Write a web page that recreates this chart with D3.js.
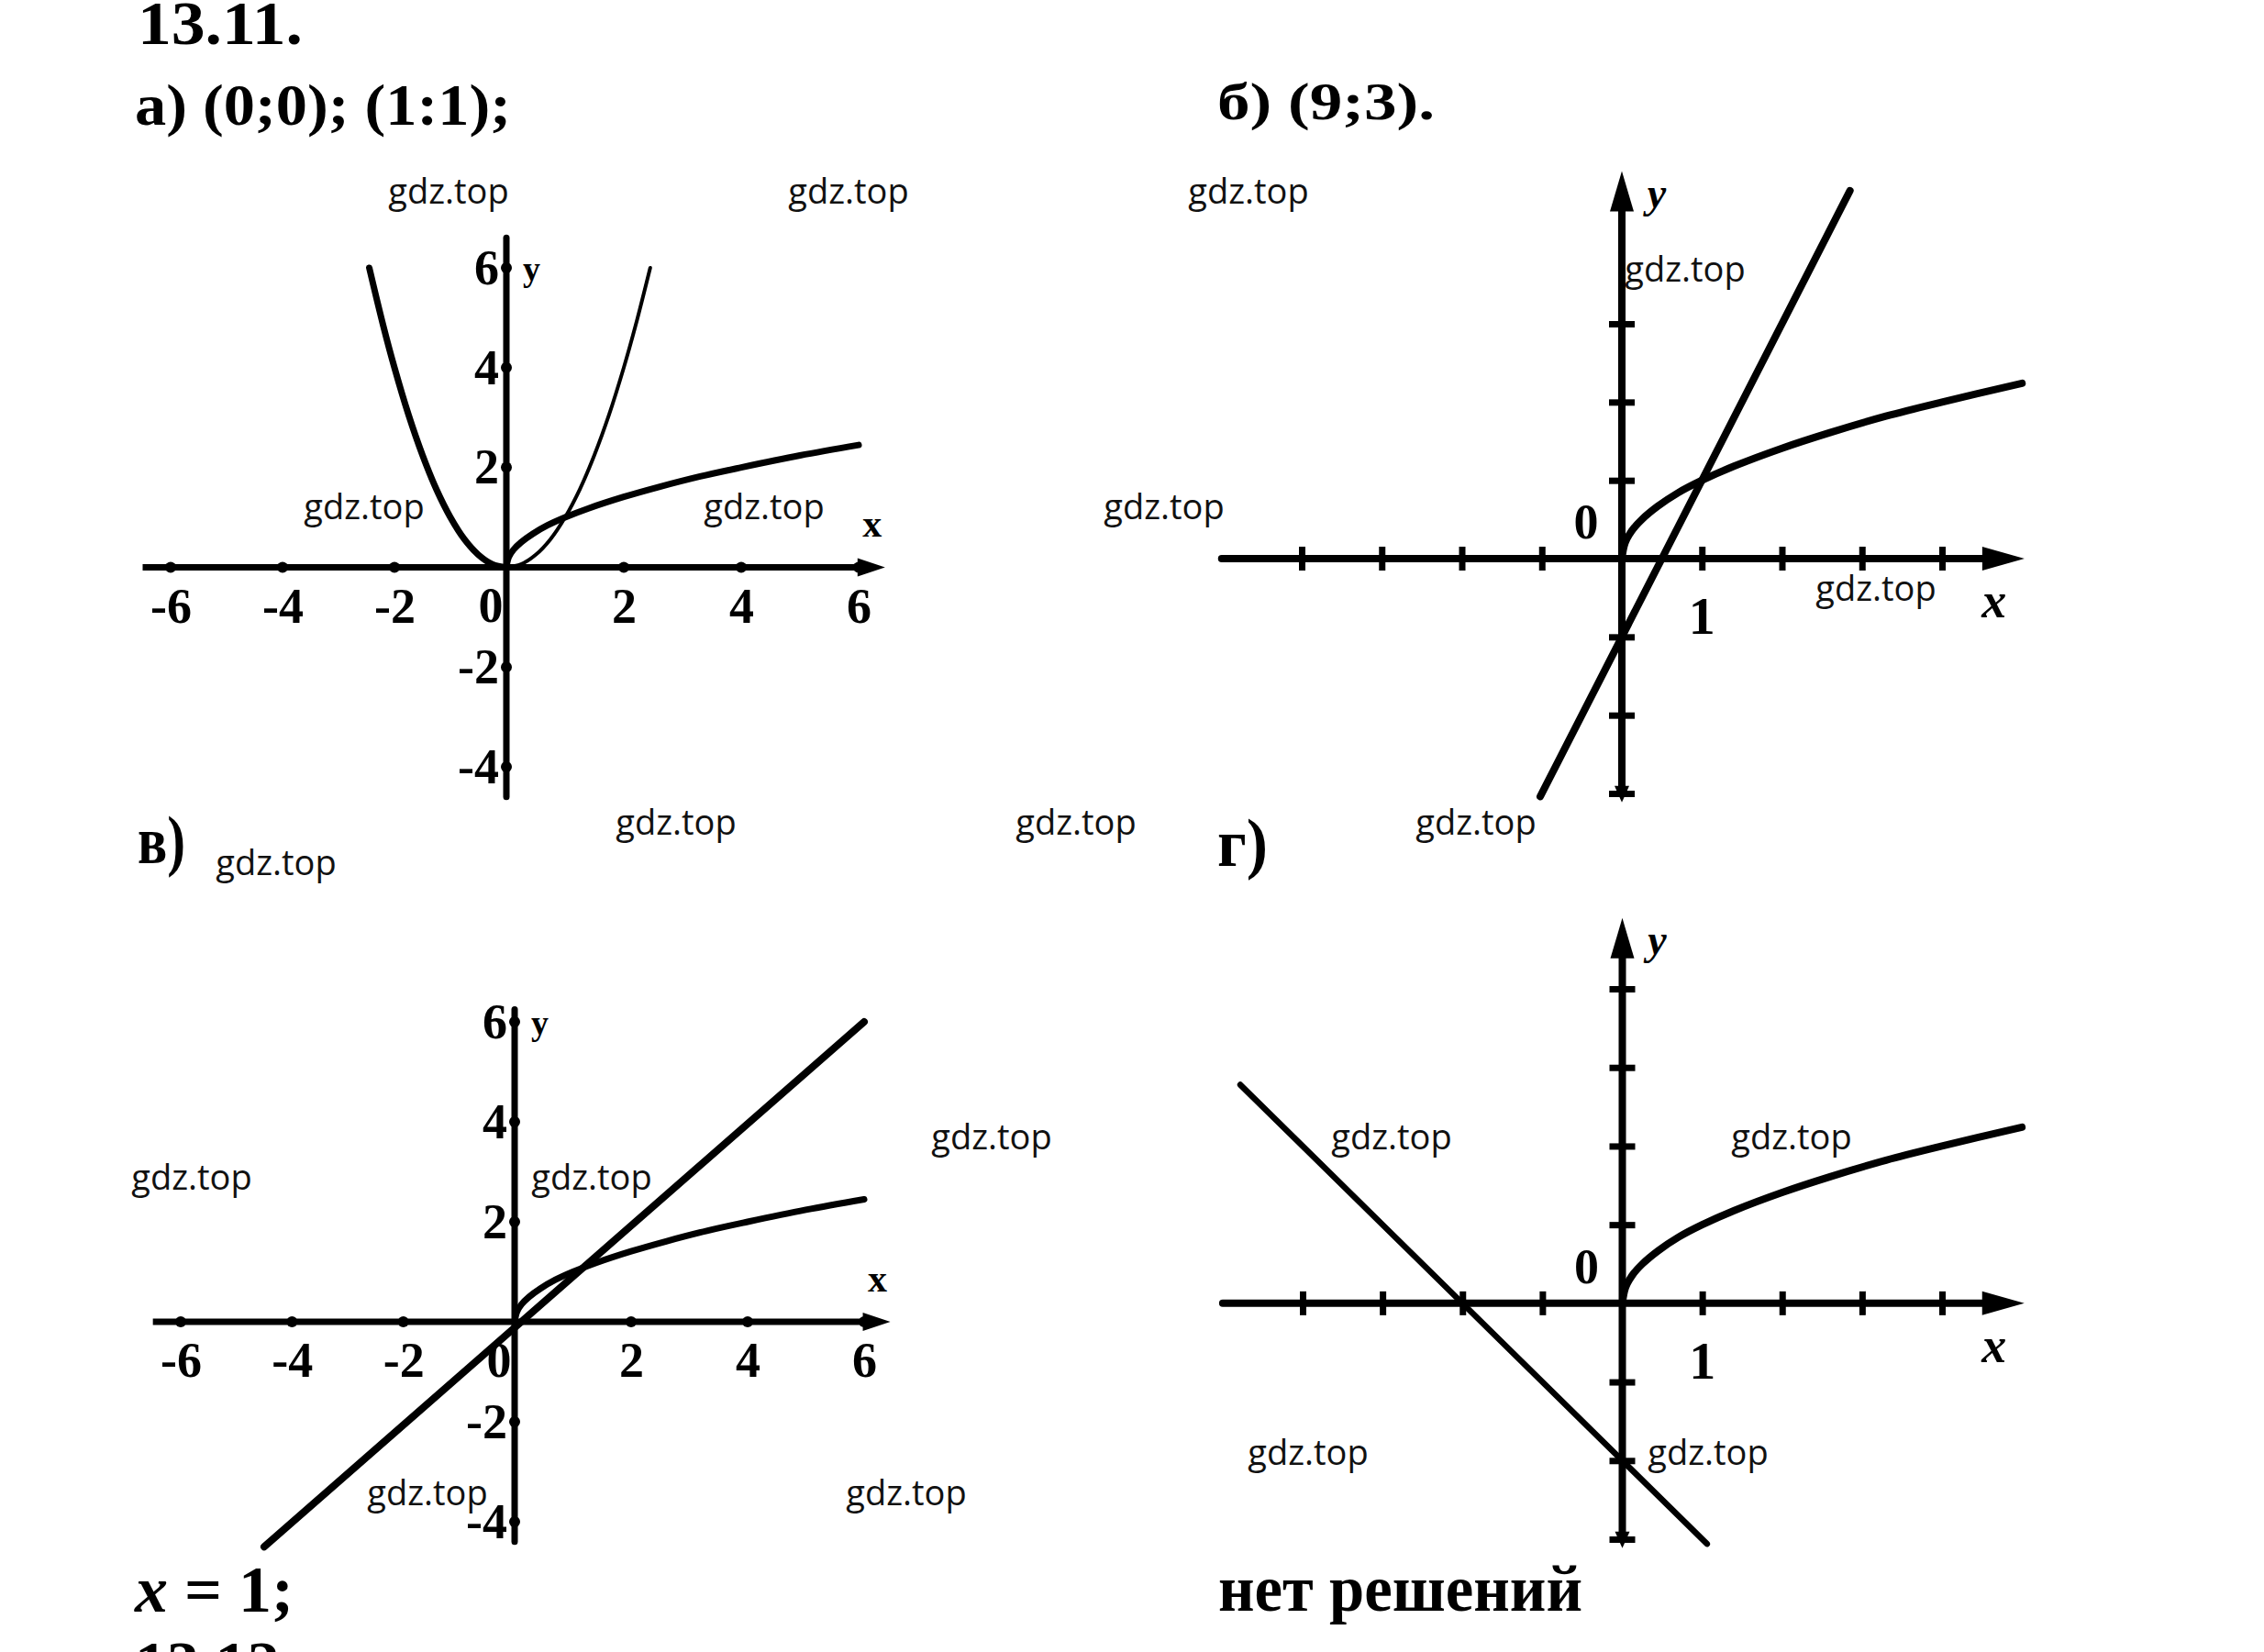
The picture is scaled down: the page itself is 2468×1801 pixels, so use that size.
<!DOCTYPE html>
<html>
<head>
<meta charset="utf-8">
<script src="https://cdn.jsdelivr.net/npm/d3@7"></script>
<style>
  body { margin: 0; background: #fff; }
  svg { display: block; }
</style>
</head>
<body>
<div id="chart"></div>
<script>
// а) y = x^2 and y = sqrt(x)
var sqrtLongX = [0, 0.04, 0.12, 0.25, 0.45, 0.7, 1, 1.4, 2, 2.6, 3.3, 4, 5, 6];
var sqrtLongY = [0, 0.2, 0.35, 0.5, 0.67, 0.84, 1, 1.18, 1.41, 1.61, 1.82, 2, 2.24, 2.45];
var parabLeftX = [-2.45, -2.2, -2, -1.75, -1.5, -1.25, -1, -0.75, -0.5, -0.25, 0];
var parabLeftY = [6, 4.84, 4, 3.06, 2.25, 1.56, 1, 0.56, 0.25, 0.06, 0];
var parabRightX = [0, 0.25, 0.5, 0.75, 1, 1.25, 1.5, 1.75, 2, 2.2, 2.45];
var parabRightY = [0, 0.06, 0.25, 0.56, 1, 1.56, 2.25, 3.06, 4, 4.84, 6];
// б) y = sqrt(x), y = 2x - 1
var sqrtShortX = [0, 0.04, 0.12, 0.25, 0.45, 0.7, 1, 1.4, 2, 2.6, 3.3, 4, 5];
var sqrtShortY = [0, 0.2, 0.35, 0.5, 0.67, 0.84, 1, 1.18, 1.41, 1.61, 1.82, 2, 2.24];
var lineBX = [-1.02, 2.85];
var lineBY = [-3.04, 4.7];
// в) y = x
var lineVX = [-4.5, 6];
var lineVY = [-4.5, 6];
// г) y = -x - 2
var lineGX = [-4.78, 1.06];
var lineGY = [2.78, -3.06];

var bigXTicks = [-6, -4, -2, 2, 4, 6];
var bigYTicks = [-4, -2, 2, 4, 6];
var unitXTicks = [-4, -3, -2, -1, 1, 2, 3, 4];
var unitYTicksB = [-3, -2, -1, 1, 2, 3];
var unitYTicksG = [-3, -2, -1, 1, 2, 3, 4];

var width = 2468;
var height = 1801;
var serif = "'Liberation Serif', 'Times New Roman', serif";

var svg = d3.select("#chart")
  .append("svg")
  .attr("width", width)
  .attr("height", height);

svg.append("rect").attr("width", width).attr("height", height).attr("fill", "#fff");

function pts(xs, ys) {
  return xs.map(function(d, i) { return [d, ys[i]]; });
}

function curve(g, sx, sy, xs, ys, w) {
  var line = d3.line()
    .x(function(d) { return sx(d[0]); })
    .y(function(d) { return sy(d[1]); })
    .curve(d3.curveCatmullRom.alpha(0.5));
  g.append("path")
    .attr("d", line(pts(xs, ys)))
    .attr("fill", "none")
    .attr("stroke", "#000")
    .attr("stroke-width", w)
    .attr("stroke-linecap", "round")
    .attr("stroke-linejoin", "round");
}

function label(g, txt, x, y, size, opts) {
  opts = opts || {};
  var t = g.append("text")
    .attr("x", x)
    .attr("y", y)
    .attr("font-family", serif)
    .attr("font-weight", "bold")
    .attr("font-size", size)
    .attr("font-style", opts.italic ? "italic" : "normal")
    .attr("text-anchor", opts.anchor || "start")
    .attr("fill", "#000")
    .text(txt);
  if (opts.len) t.attr("textLength", opts.len).attr("lengthAdjust", "spacingAndGlyphs");
  return t;
}

var fmt = function(d) { return d < 0 ? "-" + (-d) : String(d); };

// panels а and в: dotted ticks, numbered
function bigAxes(g, sx, sy, ext) {
  var x0 = sx(0), y0 = sy(0), xr = sx(ext.xMax);
  g.append("line")
    .attr("x1", sx(ext.xMin)).attr("x2", xr - 16)
    .attr("y1", y0).attr("y2", y0)
    .attr("stroke", "#000").attr("stroke-width", 7);
  g.append("path")
    .attr("d", "M" + xr + "," + y0 + "L" + (xr - 30) + "," + (y0 - 10) + "L" + (xr - 30) + "," + (y0 + 10) + "Z")
    .attr("fill", "#000");
  g.append("line")
    .attr("x1", x0).attr("x2", x0)
    .attr("y1", sy(ext.yMax)).attr("y2", sy(ext.yMin))
    .attr("stroke", "#000").attr("stroke-width", 7)
    .attr("stroke-linecap", "round");

  g.selectAll(".xdot").data(bigXTicks).enter().append("circle")
    .attr("cx", function(d) { return sx(d); }).attr("cy", y0).attr("r", 6);
  g.selectAll(".ydot").data(bigYTicks).enter().append("circle")
    .attr("cx", x0).attr("cy", function(d) { return sy(d); }).attr("r", 6);

  var xa = g.append("g")
    .attr("transform", "translate(0," + y0 + ")")
    .call(d3.axisBottom(sx).tickValues(bigXTicks).tickSize(0).tickPadding(22).tickFormat(fmt));
  xa.select(".domain").remove();
  xa.attr("font-family", serif).attr("font-size", 54).attr("font-weight", "bold");

  var ya = g.append("g")
    .attr("transform", "translate(" + x0 + ",0)")
    .call(d3.axisLeft(sy).tickValues(bigYTicks).tickSize(0).tickPadding(8).tickFormat(fmt));
  ya.select(".domain").remove();
  ya.attr("font-family", serif).attr("font-size", 54).attr("font-weight", "bold");

  label(g, "0", x0 - 17, y0 + 60, 54, { anchor: "middle" });
  label(g, "x", xr - 14, y0 - 33, 42, { anchor: "middle" });
  label(g, "y", x0 + 18, sy(6) + 14, 38);
}

// panels б and г: bar ticks, arrows
function unitAxes(g, sx, sy, ext, yTicks) {
  var x0 = sx(0), y0 = sy(0);
  var xr = sx(ext.xMax), yt = sy(ext.yMax), yb = sy(ext.yMin);
  g.append("line")
    .attr("x1", sx(ext.xMin)).attr("x2", xr - 30)
    .attr("y1", y0).attr("y2", y0)
    .attr("stroke", "#000").attr("stroke-width", 8).attr("stroke-linecap", "round");
  g.append("path")
    .attr("d", "M" + xr + "," + y0 + "L" + (xr - 46) + "," + (y0 - 13) + "L" + (xr - 46) + "," + (y0 + 13) + "Z")
    .attr("fill", "#000");
  g.append("line")
    .attr("x1", x0).attr("x2", x0)
    .attr("y1", yb).attr("y2", yt + 30)
    .attr("stroke", "#000").attr("stroke-width", 8);
  g.append("path")
    .attr("d", "M" + x0 + "," + yt + "L" + (x0 - 13) + "," + (yt + 44) + "L" + (x0 + 13) + "," + (yt + 44) + "Z")
    .attr("fill", "#000");
  g.append("path")
    .attr("d", "M" + x0 + "," + (yb + 8) + "L" + (x0 - 8) + "," + (yb - 10) + "L" + (x0 + 8) + "," + (yb - 10) + "Z")
    .attr("fill", "#000");

  var xa = g.append("g")
    .attr("transform", "translate(0," + (y0 - 13) + ")")
    .call(d3.axisBottom(sx).tickValues(unitXTicks).tickSize(26).tickFormat(""));
  xa.select(".domain").remove();
  xa.selectAll("line").attr("stroke", "#000").attr("stroke-width", 7);

  var ya = g.append("g")
    .attr("transform", "translate(" + (x0 + 14) + ",0)")
    .call(d3.axisLeft(sy).tickValues(yTicks).tickSize(28).tickFormat(""));
  ya.select(".domain").remove();
  ya.selectAll("line").attr("stroke", "#000").attr("stroke-width", 7);

  label(g, "0", x0 - 39, y0 - 22, 54, { anchor: "middle" });
  label(g, "1", sx(1), y0 + 82, 58, { anchor: "middle" });
  label(g, "x", xr - 33, y0 + 64, 54, { anchor: "middle", italic: true });
  label(g, "y", x0 + 38, yt + 39, 46, { anchor: "middle", italic: true });
}

// а
var ax = d3.scaleLinear().domain([-6, 0, 6]).range([186, 552, 936]);
var ay = d3.scaleLinear().domain([-4, 6]).range([836, 292]);
var ga = svg.append("g");
bigAxes(ga, ax, ay, { xMin: -6.5, xMax: 6.45, yMin: -4.6, yMax: 6.6 });
curve(ga, ax, ay, parabLeftX, parabLeftY, 7);
curve(ga, ax, ay, parabRightX, parabRightY, 4);
curve(ga, ax, ay, sqrtLongX, sqrtLongY, 7);

// в
var vx = d3.scaleLinear().domain([-6, 0, 6]).range([197, 561, 942]);
var vy = d3.scaleLinear().domain([-4, 6]).range([1659, 1114]);
var gv = svg.append("g");
bigAxes(gv, vx, vy, { xMin: -6.5, xMax: 6.45, yMin: -4.4, yMax: 6.25 });
curve(gv, vx, vy, lineVX, lineVY, 8);
curve(gv, vx, vy, sqrtLongX, sqrtLongY, 7);

// б
var bx = d3.scaleLinear().domain([-4, 4]).range([1419, 2117]);
var by = d3.scaleLinear().domain([-3, 3]).range([865, 353]);
var gb = svg.append("g");
unitAxes(gb, bx, by, { xMin: -5, xMax: 5.03, yMin: -3.02, yMax: 4.95 }, unitYTicksB);
curve(gb, bx, by, sqrtShortX, sqrtShortY, 8);
curve(gb, bx, by, lineBX, lineBY, 8);

// г
var gx = d3.scaleLinear().domain([-4, 4]).range([1420, 2117]);
var gy = d3.scaleLinear().domain([-3, 4]).range([1678, 1078]);
var gg = svg.append("g");
unitAxes(gg, gx, gy, { xMin: -5, xMax: 5.03, yMin: -3.02, yMax: 4.9 }, unitYTicksG);
curve(gg, gx, gy, sqrtShortX, sqrtShortY, 8);
curve(gg, gx, gy, lineGX, lineGY, 6.5);

// headings and answers
label(svg, "13.11.", 150, 48, 68, { len: 180 });
label(svg, "а) (0;0); (1:1);", 147, 136, 64, { len: 410 });
label(svg, "б) (9;3).", 1327, 130, 58, { len: 237 });
label(svg, "в)", 150, 941, 74, { len: 52 });
label(svg, "г)", 1327, 944, 74, { len: 55 });
var ans = label(svg, "", 147, 1757, 72);
ans.append("tspan").attr("font-style", "italic").text("x");
ans.append("tspan").text(" = 1;");
label(svg, "нет решений", 1328, 1756, 72, { len: 397 });
label(svg, "13.12.", 147, 1836, 68, { len: 175 });

// watermark
var marks = [
  [489, 222], [925, 222], [1361, 222], [1837, 307],
  [397, 566], [833, 566], [1269, 566], [2045, 655],
  [737, 910], [1173, 910], [1609, 910], [301, 954],
  [209, 1297], [645, 1297], [1081, 1253], [1517, 1253], [1953, 1253],
  [466, 1641], [988, 1641], [1426, 1597], [1862, 1597]
];
svg.selectAll(".mark").data(marks).enter().append("text")
  .attr("x", function(d) { return d[0]; })
  .attr("y", function(d) { return d[1]; })
  .attr("text-anchor", "middle")
  .attr("font-family", "'Open Sans', sans-serif")
  .attr("font-size", 38)
  .attr("fill", "#111")
  .text("gdz.top");
</script>
</body>
</html>
